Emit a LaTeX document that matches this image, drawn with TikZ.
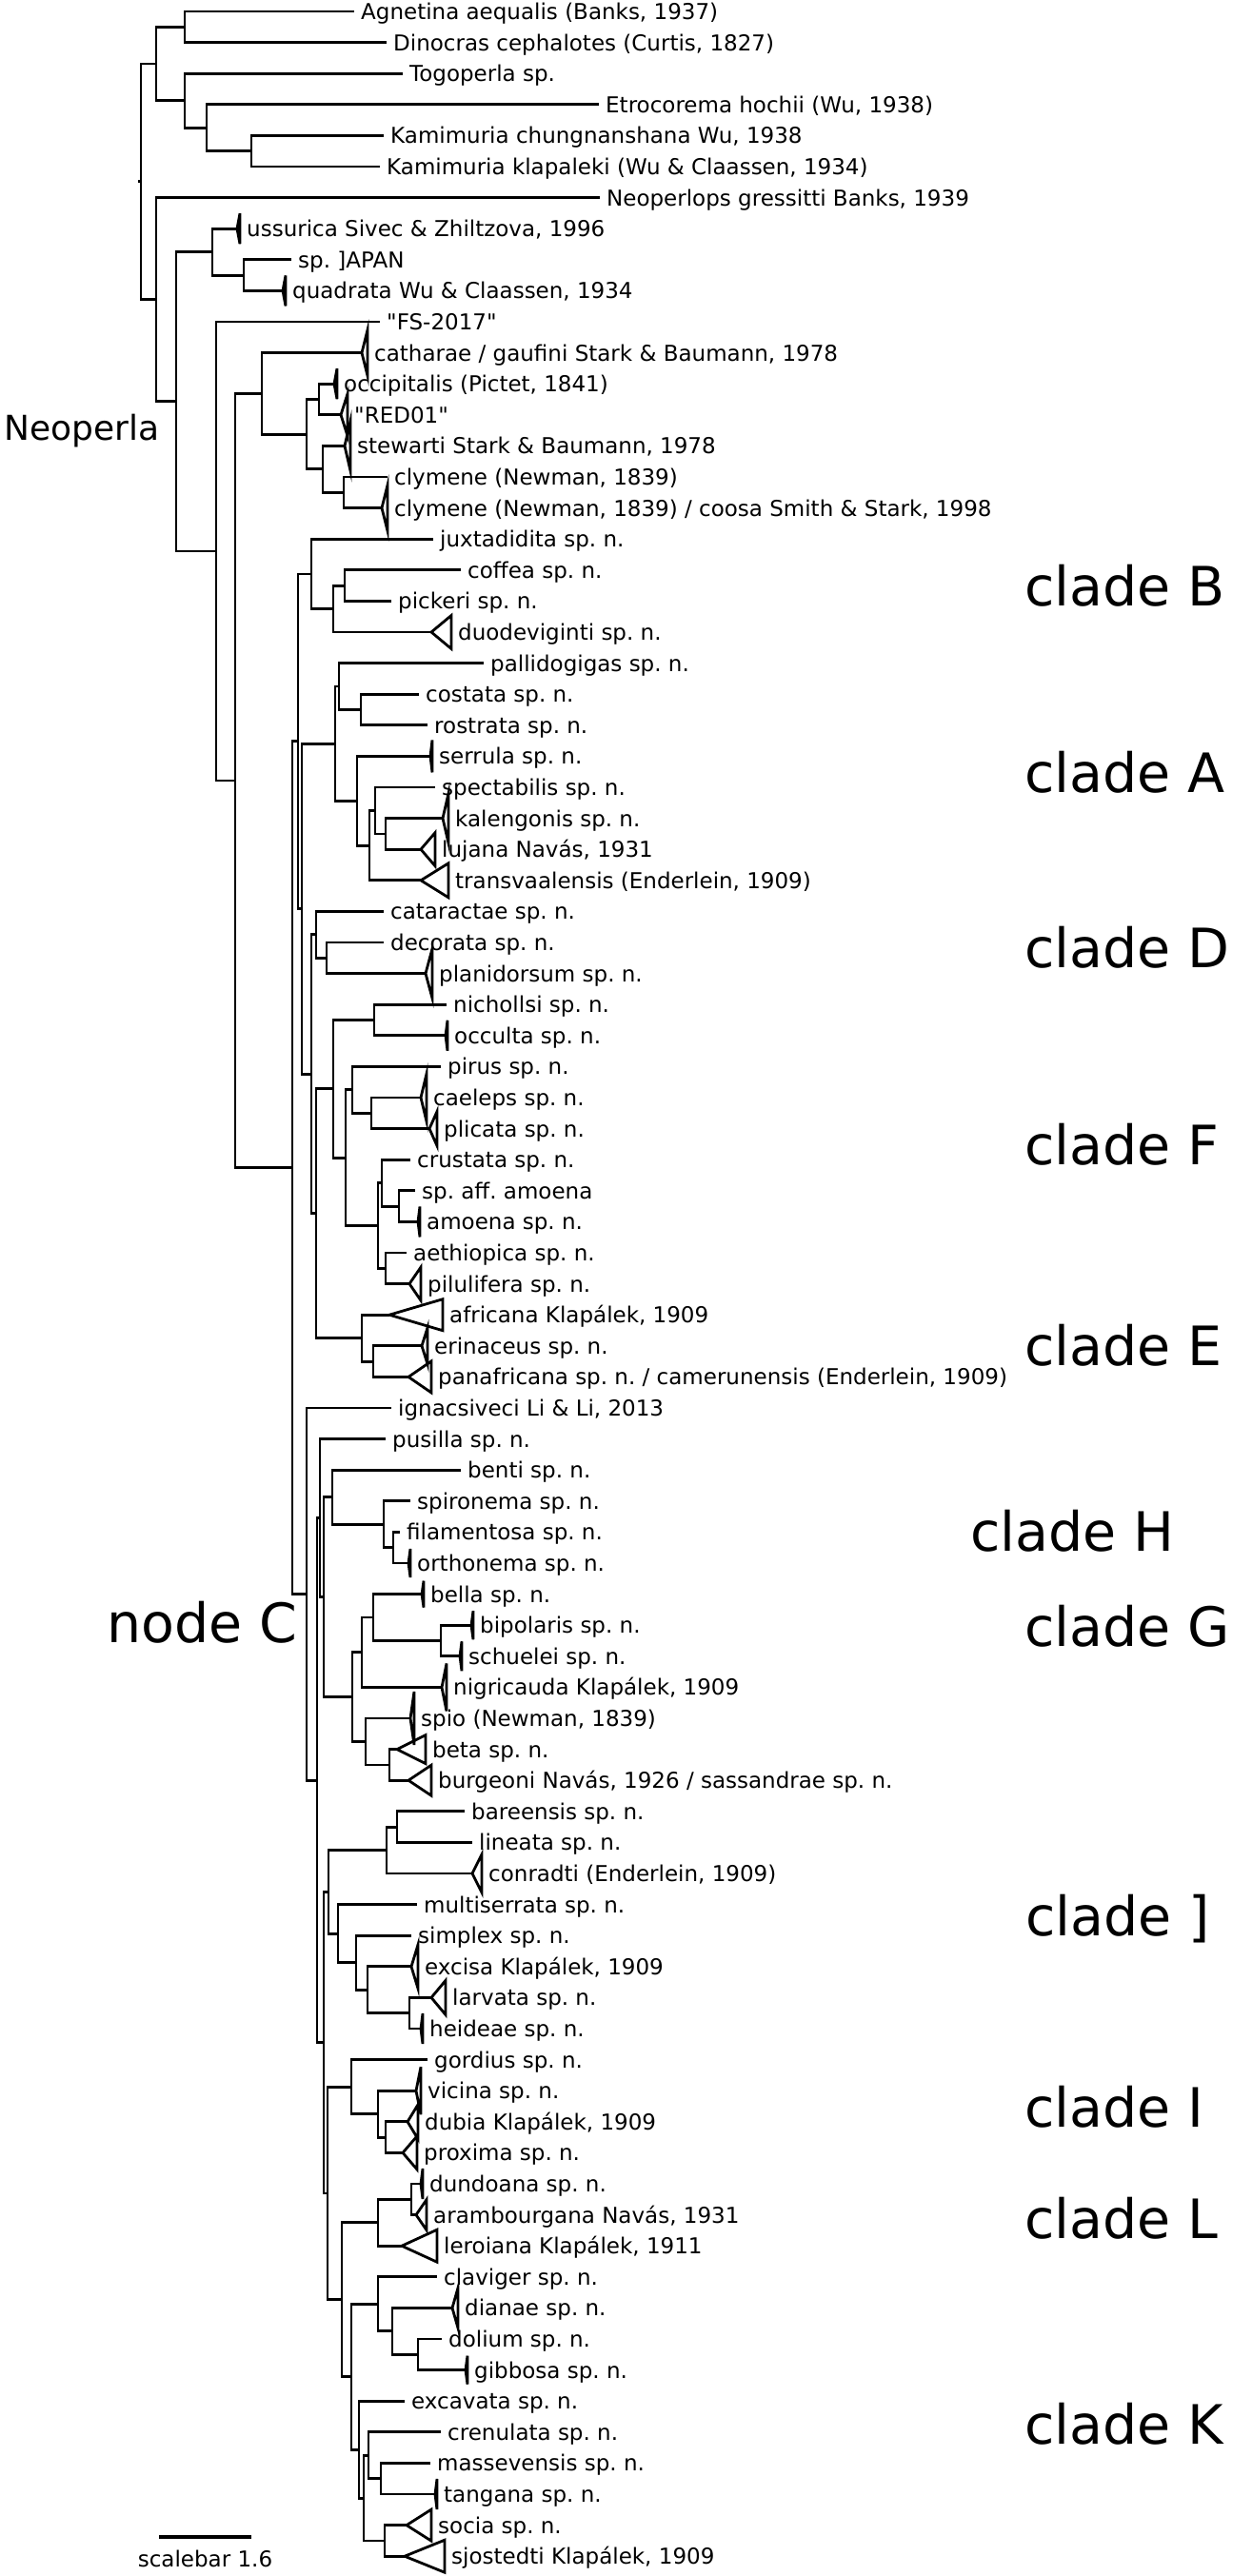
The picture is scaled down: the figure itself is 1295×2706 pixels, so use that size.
\documentclass[tikz,border=0pt]{standalone}
\usepackage{fontspec}
\setmainfont{DejaVu Sans}[Ligatures=TeXOff]
\frenchspacing
\newcommand\Qt{"}
\newcommand\Lf[4]{%
  \coordinate (t#1) at (#2,#3);
  \node[lab] (l#1) at (#2+7,#3) {#4};}
\newcommand\Tr[6]{%
  \coordinate (t#1) at (#2,#4);
  \coordinate (u#1) at (#3,#4-#5);
  \coordinate (v#1) at (#3,#4+#5);
  \draw[tri] (t#1) -- (u#1) -- (v#1) -- cycle;
  \node[lab] (l#1) at (#3+7,#4) {#6};}
\tikzset{
  branch/.style={line width=2.8pt, black},
  tri/.style={line width=2.8pt, black},
  lab/.style={anchor=west, inner sep=0pt, text height=16.8pt, text depth=0pt, font=\fontsize{23}{23}\selectfont},
  big/.style={anchor=west, inner sep=0pt, text height=41.5pt, text depth=0pt, font=\fontsize{57}{57}\selectfont},
  mid/.style={anchor=west, inner sep=0pt, text height=26.2pt, text depth=0pt, font=\fontsize{36}{36}\selectfont},
  sbar/.style={inner sep=0pt, text height=16.8pt, text depth=0pt, font=\fontsize{23}{23}\selectfont}
}
\begin{document}
\begin{tikzpicture}[x=1pt,y=-1pt]
\useasboundingbox (0,0) rectangle (1295,2706);
\fill[white] (0,0) rectangle (1295,2706);
% leaves
\Lf{1}{372}{12}{Agnetina aequalis (Banks, 1937)}
\Lf{2}{406}{44.6}{Dinocras cephalotes (Curtis, 1827)}
\Lf{3}{423}{77.2}{Togoperla sp.}
\Lf{4}{629}{109.8}{Etrocorema hochii (Wu, 1938)}
\Lf{5}{403}{142.4}{Kamimuria chungnanshana Wu, 1938}
\Lf{6}{399}{175}{Kamimuria klapaleki (Wu \& Claassen, 1934)}
\Lf{7}{630}{207.6}{Neoperlops gressitti Banks, 1939}
\Tr{8}{249}{252}{240.2}{16}{ussurica Sivec \& Zhiltzova, 1996}
\Lf{9}{306}{272.8}{sp. ]APAN}
\Tr{10}{297}{300}{305.4}{16}{quadrata Wu \& Claassen, 1934}
\Lf{11}{399}{338}{\Qt FS-2017\Qt}
\Tr{12}{380}{386}{370.6}{24}{catharae / gaufini Stark \& Baumann, 1978}
\Tr{13}{351}{354}{403.2}{16}{occipitalis (Pictet, 1841)}
\Tr{14}{358}{365}{435.8}{22}{\Qt RED01\Qt}
\Tr{15}{362}{368}{468.4}{26}{stewarti Stark \& Baumann, 1978}
\Lf{16}{407}{501}{clymene (Newman, 1839)}
\Tr{17}{401}{407}{533.6}{24}{clymene (Newman, 1839) / coosa Smith \& Stark, 1998}
\Lf{18}{455}{566.2}{juxtadidita sp. n.}
\Lf{19}{484}{598.8}{coffea sp. n.}
\Lf{20}{411}{631.4}{pickeri sp. n.}
\Tr{21}{453}{474}{664}{17.5}{duodeviginti sp. n.}
\Lf{22}{508}{696.6}{pallidogigas sp. n.}
\Lf{23}{440}{729.2}{costata sp. n.}
\Lf{24}{449}{761.8}{rostrata sp. n.}
\Tr{25}{452}{454}{794.4}{17}{serrula sp. n.}
\Lf{26}{457}{827}{spectabilis sp. n.}
\Tr{27}{465}{471}{859.6}{26}{kalengonis sp. n.}
\Tr{28}{442}{457}{892.2}{17.5}{lujana Navás, 1931}
\Tr{29}{442}{471}{924.8}{18}{transvaalensis (Enderlein, 1909)}
\Lf{30}{403}{957.4}{cataractae sp. n.}
\Lf{31}{403}{990}{decorata sp. n.}
\Tr{32}{447}{454}{1022.6}{26}{planidorsum sp. n.}
\Lf{33}{469}{1055.2}{nichollsi sp. n.}
\Tr{34}{468}{470}{1087.8}{16}{occulta sp. n.}
\Lf{35}{463}{1120.4}{pirus sp. n.}
\Tr{36}{442}{448}{1153}{25}{caeleps sp. n.}
\Tr{37}{451}{459}{1185.6}{18}{plicata sp. n.}
\Lf{38}{431}{1218.2}{crustata sp. n.}
\Lf{39}{436}{1250.8}{sp. aff. amoena}
\Tr{40}{439}{441}{1283.4}{16}{amoena sp. n.}
\Lf{41}{427}{1316}{aethiopica sp. n.}
\Tr{42}{430}{442}{1348.6}{17.5}{pilulifera sp. n.}
\Tr{43}{409}{465}{1381.2}{16.5}{africana Klapálek, 1909}
\Tr{44}{443}{449}{1413.8}{19}{erinaceus sp. n.}
\Tr{45}{429}{453}{1446.4}{16.5}{panafricana sp. n. / camerunensis (Enderlein, 1909)}
\Lf{46}{411}{1479}{ignacsiveci Li \& Li, 2013}
\Lf{47}{405}{1511.6}{pusilla sp. n.}
\Lf{48}{484}{1544.2}{benti sp. n.}
\Lf{49}{431}{1576.8}{spironema sp. n.}
\Lf{50}{420}{1609.4}{filamentosa sp. n.}
\Tr{51}{429}{431}{1642}{15}{orthonema sp. n.}
\Tr{52}{443}{445}{1674.6}{14}{bella sp. n.}
\Tr{53}{495}{497}{1707.2}{15}{bipolaris sp. n.}
\Tr{54}{483}{485}{1739.8}{15.5}{schuelei sp. n.}
\Tr{55}{464}{469}{1772.4}{25}{nigricauda Klapálek, 1909}
\Tr{56}{431}{435}{1805}{28}{spio (Newman, 1839)}
\Tr{57}{417}{447}{1837.6}{15}{beta sp. n.}
\Tr{58}{429}{453}{1870.2}{16}{burgeoni Navás, 1926 / sassandrae sp. n.}
\Lf{59}{488}{1902.8}{bareensis sp. n.}
\Lf{60}{496}{1935.4}{lineata sp. n.}
\Tr{61}{496}{506}{1968}{20}{conradti (Enderlein, 1909)}
\Lf{62}{438}{2000.6}{multiserrata sp. n.}
\Lf{63}{432}{2033.2}{simplex sp. n.}
\Tr{64}{432}{439}{2065.8}{23}{excisa Klapálek, 1909}
\Tr{65}{453}{468}{2098.4}{18}{larvata sp. n.}
\Tr{66}{442}{444}{2131}{16}{heideae sp. n.}
\Lf{67}{449}{2163.6}{gordius sp. n.}
\Tr{68}{437}{442}{2196.2}{25}{vicina sp. n.}
\Tr{69}{428}{439}{2228.8}{18}{dubia Klapálek, 1909}
\Tr{70}{423}{438}{2261.4}{17.5}{proxima sp. n.}
\Tr{71}{442}{444}{2294}{16}{dundoana sp. n.}
\Tr{72}{437}{448}{2326.6}{16}{arambourgana Navás, 1931}
\Tr{73}{422}{459}{2359.2}{17}{leroiana Klapálek, 1911}
\Lf{74}{459}{2391.8}{claviger sp. n.}
\Tr{75}{475}{481}{2424.4}{21}{dianae sp. n.}
\Lf{76}{464}{2457}{dolium sp. n.}
\Tr{77}{489}{491}{2489.6}{15}{gibbosa sp. n.}
\Lf{78}{425}{2522.2}{excavata sp. n.}
\Lf{79}{463}{2554.8}{crenulata sp. n.}
\Lf{80}{452}{2587.4}{massevensis sp. n.}
\Tr{81}{457}{459}{2620}{16}{tangana sp. n.}
\Tr{82}{427}{453}{2652.6}{16.5}{socia sp. n.}
\Tr{83}{425}{467}{2685.2}{17}{sjostedti Klapálek, 1909}
% internal nodes
\coordinate (root) at (148,190.85);
\coordinate (stub) at (145,190.85);
\coordinate (a5) at (164,67);
\coordinate (a1) at (194,28.3);
\coordinate (a4) at (194,105.7);
\coordinate (a2) at (217,134.25);
\coordinate (a3) at (264,158.7);
\coordinate (N2) at (164,314.7);
\coordinate (En) at (185,421.8);
\coordinate (b2) at (223,264.65);
\coordinate (b1) at (256,289.1);
\coordinate (Gn) at (227,579);
\coordinate (In) at (247,820.05);
\coordinate (c5) at (275,413.4);
\coordinate (c4) at (322,456.2);
\coordinate (c1) at (335,419.5);
\coordinate (c3) at (339,492.85);
\coordinate (c2) at (361,517.3);
\coordinate (Kn) at (307,1226.7);
\coordinate (Q) at (313,778.8);
\coordinate (B3) at (327,602.9);
\coordinate (B2) at (350,639.55);
\coordinate (B1) at (362,615.1);
\coordinate (Q2) at (317,954.7);
\coordinate (A7) at (352,781.15);
\coordinate (A2) at (356,721.05);
\coordinate (A1) at (379,745.5);
\coordinate (A6) at (375,841.25);
\coordinate (A5) at (388,888.1);
\coordinate (A4) at (394,851.45);
\coordinate (A3) at (405,875.9);
\coordinate (Q3) at (327,1128.3);
\coordinate (D2) at (332,981.85);
\coordinate (D1) at (343,1006.3);
\coordinate (FE) at (332,1274.75);
\coordinate (F9) at (350,1143.85);
\coordinate (F1) at (393,1071.5);
\coordinate (F8) at (363,1216.2);
\coordinate (F3) at (370,1144.85);
\coordinate (F2) at (390,1169.3);
\coordinate (F7) at (397,1287.5);
\coordinate (F5) at (401,1242.65);
\coordinate (F4) at (419,1267.1);
\coordinate (F6) at (405,1332.3);
\coordinate (E2) at (380,1405.65);
\coordinate (E1) at (392,1430.1);
\coordinate (NC) at (322,1674.55);
\coordinate (S) at (333,1870.1);
\coordinate (T) at (336,1594.6);
\coordinate (HG) at (340,1677.65);
\coordinate (H3) at (349,1572.7);
\coordinate (H2) at (403,1601.25);
\coordinate (H1) at (413,1625.7);
\coordinate (G6) at (370,1782.6);
\coordinate (G3) at (380,1735.7);
\coordinate (G2) at (392,1699.05);
\coordinate (G1) at (463,1723.5);
\coordinate (G5) at (384,1829.45);
\coordinate (G4) at (409,1853.9);
\coordinate (U) at (340,2145.6);
\coordinate (V) at (345,1987.35);
\coordinate (J2) at (406,1943.55);
\coordinate (J1) at (417,1919.1);
\coordinate (J6) at (355,2031.15);
\coordinate (J5) at (374,2061.7);
\coordinate (J4) at (386,2090.25);
\coordinate (J3) at (430,2114.7);
\coordinate (X) at (344,2303.9);
\coordinate (I3) at (369,2192.1);
\coordinate (I2) at (397,2220.65);
\coordinate (I1) at (405,2245.1);
\coordinate (Y) at (359,2415.7);
\coordinate (Lc2) at (397,2334.75);
\coordinate (Lc1) at (432,2310.3);
\coordinate (K9) at (369,2496.7);
\coordinate (K3) at (397,2420.3);
\coordinate (K2) at (412,2448.85);
\coordinate (K1) at (439,2473.3);
\coordinate (K8) at (377,2573.15);
\coordinate (K7) at (382,2624.1);
\coordinate (K5) at (387,2579.25);
\coordinate (K4) at (400,2603.7);
\coordinate (K6) at (404,2668.9);
% connectors
\draw[branch] (stub) -- (root);
\foreach \p/\c in {root/a5, root/N2, a5/a1, a5/a4, a1/t1, a1/t2, a4/t3, a4/a2, a2/t4, a2/a3, a3/t5, a3/t6,
  N2/t7, N2/En, En/b2, En/Gn, b2/t8, b2/b1, b1/t9, b1/t10, Gn/t11, Gn/In, In/c5, In/Kn,
  c5/t12, c5/c4, c4/c1, c4/c3, c1/t13, c1/t14, c3/t15, c3/c2, c2/t16, c2/t17,
  Kn/Q, Kn/NC, Q/B3, Q/Q2, B3/t18, B3/B2, B2/B1, B2/t21, B1/t19, B1/t20,
  Q2/A7, Q2/Q3, A7/A2, A7/A6, A2/t22, A2/A1, A1/t23, A1/t24, A6/t25, A6/A5, A5/A4, A5/t29, A4/t26, A4/A3, A3/t27, A3/t28,
  Q3/D2, Q3/FE, D2/t30, D2/D1, D1/t31, D1/t32,
  FE/F9, FE/E2, F9/F1, F9/F8, F1/t33, F1/t34, F8/F3, F8/F7, F3/t35, F3/F2, F2/t36, F2/t37,
  F7/F5, F7/F6, F5/t38, F5/F4, F4/t39, F4/t40, F6/t41, F6/t42, E2/t43, E2/E1, E1/t44, E1/t45,
  NC/t46, NC/S, S/T, S/U, T/t47, T/HG, HG/H3, HG/G6, H3/t48, H3/H2, H2/t49, H2/H1, H1/t50, H1/t51,
  G6/G3, G6/G5, G3/G2, G3/t55, G2/t52, G2/G1, G1/t53, G1/t54, G5/t56, G5/G4, G4/t57, G4/t58,
  U/V, U/X, V/J2, V/J6, J2/J1, J2/t61, J1/t59, J1/t60, J6/t62, J6/J5, J5/t63, J5/J4, J4/t64, J4/J3, J3/t65, J3/t66,
  X/I3, X/Y, I3/t67, I3/I2, I2/t68, I2/I1, I1/t69, I1/t70,
  Y/Lc2, Y/K9, Lc2/Lc1, Lc2/t73, Lc1/t71, Lc1/t72,
  K9/K3, K9/K8, K3/t74, K3/K2, K2/t75, K2/K1, K1/t76, K1/t77,
  K8/t78, K8/K7, K7/K5, K7/K6, K5/t79, K5/K4, K4/t80, K4/t81, K6/t82, K6/t83}
  {\draw[branch] (\p) |- (\c);}
% group labels
\node[mid] (neoperla) at (4,449) {Neoperla};
\node[big] (nodeC) at (112,1705) {node C};
\node[big] (cladeB) at (1076,616) {clade B};
\node[big] (cladeA) at (1076,812) {clade A};
\node[big] (cladeD) at (1076,996) {clade D};
\node[big] (cladeF) at (1076,1203) {clade F};
\node[big] (cladeE) at (1076,1414) {clade E};
\node[big] (cladeH) at (1019,1609) {clade H};
\node[big] (cladeG) at (1076,1709) {clade G};
\node[big] (cladeJ) at (1077,2013) {clade ]};
\node[big] (cladeI) at (1076,2214) {clade I};
\node[big] (cladeL) at (1076,2331) {clade L};
\node[big] (cladeK) at (1076,2547) {clade K};
% scale bar
\coordinate (sb1) at (167,2665);
\coordinate (sb2) at (264,2665);
\draw[line width=3.2pt] (sb1) -- (sb2);
\node[sbar] (sbt) at (215.5,2688) {scalebar 1.6};
\end{tikzpicture}
\end{document}
